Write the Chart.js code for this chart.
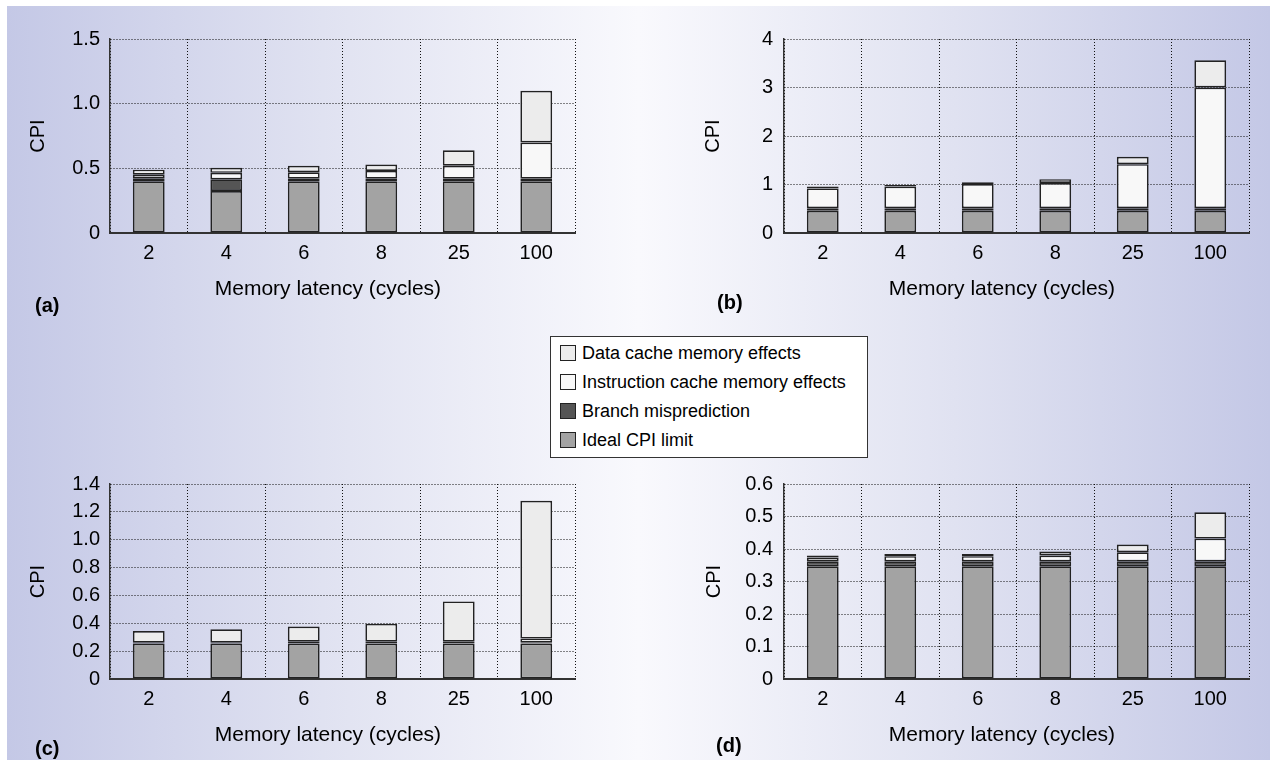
<!DOCTYPE html>
<html>
<head>
<meta charset="utf-8">
<script src="https://cdn.jsdelivr.net/npm/chart.js@4.4.1/dist/chart.umd.min.js"></script>
<style>
  html, body { margin: 0; padding: 0; background: #fff; }
  body { width: 1270px; height: 770px; position: relative; overflow: hidden;
         font-family: "Liberation Sans", Arial, sans-serif; }
  #bg { position: absolute; left: 7px; top: 6px; width: 1263px; height: 754px;
        background: linear-gradient(to right, #c4c8e6 0%, #e0e2f1 25%, #f9f9fd 50%, #e0e2f1 75%, #c4c8e6 100%); }
  canvas { position: absolute; }
  .tag { position: absolute; font-weight: bold; font-size: 20px; color: #000; line-height: 22px; }
  #legend { position: absolute; left: 550px; top: 336px; width: 305px; background: #fff; border: 1px solid #333;
            padding: 2px 2px 2px 9px; font-size: 18px; color: #000; }
  #legend div { height: 29px; line-height: 29px; white-space: nowrap; }
  #legend span { display: inline-block; width: 14px; height: 14px; border: 1px solid #222;
                 vertical-align: -2px; margin-right: 6px; }
</style>
</head>
<body>
<div id="bg"></div>
<canvas id="chartA" width="640" height="320" style="left:0;top:0"></canvas>
<canvas id="chartB" width="630" height="320" style="left:640px;top:0"></canvas>
<canvas id="chartC" width="640" height="370" style="left:0;top:400px"></canvas>
<canvas id="chartD" width="630" height="370" style="left:640px;top:400px"></canvas>
<div class="tag" style="left:35px;top:294px">(a)</div>
<div class="tag" style="left:717px;top:291px">(b)</div>
<div class="tag" style="left:35px;top:737px">(c)</div>
<div class="tag" style="left:716px;top:734px">(d)</div>
<div id="legend"></div>
<script>
// categories and series
const latencies = ['2', '4', '6', '8', '25', '100'];
const seriesNames = ['Ideal CPI limit', 'Branch misprediction', 'Instruction cache memory effects', 'Data cache memory effects'];
const seriesColors = ['#a3a3a3', '#555555', '#f8f8f8', '#ececec'];

// (a)
const idealA = [0.40, 0.325, 0.40, 0.40, 0.40, 0.40];
const branchA = [0.02, 0.09, 0.02, 0.02, 0.02, 0.02];
const instrA = [0.03, 0.05, 0.05, 0.06, 0.10, 0.28];
const dataA = [0.04, 0.04, 0.05, 0.05, 0.12, 0.40];
const ticksA = ['0', '0.5', '1.0', '1.5'];

// (b)
const idealB = [0.46, 0.46, 0.46, 0.46, 0.46, 0.46];
const branchB = [0.05, 0.05, 0.05, 0.05, 0.05, 0.05];
const instrB = [0.41, 0.45, 0.50, 0.52, 0.91, 2.49];
const dataB = [0.04, 0.03, 0.035, 0.08, 0.15, 0.56];
const ticksB = ['0', '1', '2', '3', '4'];

// (c)
const idealC = [0.255, 0.255, 0.255, 0.255, 0.255, 0.255];
const branchC = [0.005, 0.005, 0.012, 0.012, 0.012, 0.005];
const instrC = [0.0, 0.0, 0.0, 0.0, 0.0, 0.03];
const dataC = [0.085, 0.097, 0.11, 0.13, 0.29, 0.99];
const ticksC = ['0', '0.2', '0.4', '0.6', '0.8', '1.0', '1.2', '1.4'];

// (d)
const idealD = [0.347, 0.347, 0.347, 0.347, 0.347, 0.347];
const branchD = [0.015, 0.015, 0.015, 0.015, 0.015, 0.015];
const instrD = [0.012, 0.016, 0.016, 0.018, 0.028, 0.07];
const dataD = [0.006, 0.007, 0.007, 0.012, 0.024, 0.081];
const ticksD = ['0', '0.1', '0.2', '0.3', '0.4', '0.5', '0.6'];

const FONT = '"Liberation Sans", Arial, sans-serif';

// legend box in the middle
const legendEl = document.getElementById('legend');
for (let i = seriesNames.length - 1; i >= 0; i--) {
    const row = document.createElement('div');
    row.innerHTML = '<span style="background:' + seriesColors[i] + '"></span>' + seriesNames[i];
    legendEl.appendChild(row);
}

function makeChart(id, series, yMax, yStep, tickLabels, box) {
    const datasets = series.map((values, i) => ({
        label: seriesNames[i],
        data: values,
        backgroundColor: seriesColors[i],
        borderColor: '#222',
        borderWidth: 1.7,
        borderSkipped: false,
        categoryPercentage: 1.0,
        barPercentage: 0.41
    }));

    return new Chart(document.getElementById(id), {
        type: 'bar',
        data: { labels: latencies, datasets: datasets },
        options: {
            responsive: false,
            animation: false,
            layout: { padding: { top: box.top, right: box.right, left: 0, bottom: 0 } },
            plugins: { legend: { display: false }, tooltip: { enabled: false } },
            scales: {
                x: {
                    stacked: true,
                    grid: { color: '#111', lineWidth: 1, drawTicks: false, offset: true },
                    border: { color: '#333', width: 2, dash: [1, 2] },
                    ticks: { color: '#000', padding: 8, font: { family: FONT, size: 20 } },
                    title: {
                        // trailing spaces nudge the centred title a little left, as in the figure
                        display: true, text: 'Memory latency (cycles)     ', color: '#000',
                        font: { family: FONT, size: 21 }, padding: { top: 0, bottom: box.titleBottom }
                    },
                    afterFit: (scale) => { scale.height = box.xHeight; }
                },
                y: {
                    stacked: true,
                    min: 0,
                    max: yMax,
                    grid: { color: '#111', lineWidth: 1, drawTicks: false },
                    border: { color: '#333', width: 1.5, dash: [1, 2] },
                    ticks: {
                        stepSize: yStep, color: '#000', padding: box.tickPad,
                        font: { family: FONT, size: 20 },
                        callback: (value, index) => tickLabels[index]
                    },
                    title: {
                        display: true, text: 'CPI', color: '#000',
                        font: { family: FONT, size: 20 }, padding: { top: box.titleLeft, bottom: 0 }
                    },
                    afterFit: (scale) => { scale.width = box.yWidth; }
                }
            }
        }
    });
}

makeChart('chartA', [idealA, branchA, instrA, dataA], 1.5, 0.5, ticksA,
    { top: 39, right: 65, yWidth: 110, xHeight: 87, titleBottom: 18.4, titleLeft: 26, tickPad: 10 });
makeChart('chartB', [idealB, branchB, instrB, dataB], 4, 1, ticksB,
    { top: 39, right: 21, yWidth: 144, xHeight: 87, titleBottom: 18.4, titleLeft: 61, tickPad: 11 });
makeChart('chartC', [idealC, branchC, instrC, dataC], 1.4, 0.2, ticksC,
    { top: 84, right: 65, yWidth: 110, xHeight: 91, titleBottom: 22.4, titleLeft: 26, tickPad: 10 });
makeChart('chartD', [idealD, branchD, instrD, dataD], 0.6, 0.1, ticksD,
    { top: 84, right: 21, yWidth: 144, xHeight: 91, titleBottom: 22.4, titleLeft: 62, tickPad: 11 });
</script>
</body>
</html>
